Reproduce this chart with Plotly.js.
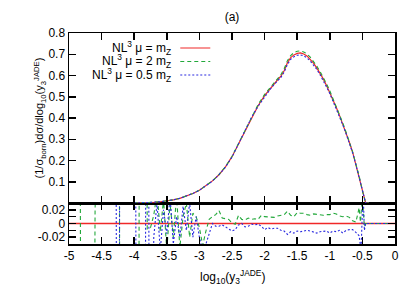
<!DOCTYPE html>
<html>
<head>
<meta charset="utf-8">
<script src="https://cdn.plot.ly/plotly-3.0.1.min.js"></script>
<style>html,body{margin:0;padding:0;background:#fff;}#chart{width:415px;height:291px;}</style>
</head>
<body>
<div id="chart"></div>
<script>
// ---- data: upper panel (distribution) ----
const topX = [-4.0,-3.9,-3.8,-3.7,-3.6,-3.5,-3.4,-3.3,-3.2,-3.1,-3.0,-2.9,-2.8,-2.7,-2.6,-2.5,-2.4,-2.3,-2.2,-2.1,-2.0,
  -1.95,-1.9,-1.85,-1.8,-1.75,-1.7,-1.65,-1.6,-1.55,-1.5,-1.45,-1.4,-1.35,-1.3,-1.25,-1.2,-1.15,-1.1,-1.05,-1.0,
  -0.95,-0.9,-0.85,-0.8,-0.75,-0.7,-0.65,-0.6,-0.55,-0.5,-0.45,-0.4];
const topRed = [0.0005,0.001,0.002,0.0035,0.006,0.010,0.015,0.022,0.032,0.045,0.060,0.080,0.104,0.133,0.170,0.218,0.278,0.343,0.404,0.458,0.505,
  0.525,0.545,0.563,0.580,0.597,0.622,0.660,0.684,0.697,0.704,0.706,0.701,0.692,0.677,0.658,0.636,0.611,0.584,0.553,0.521,
  0.486,0.449,0.411,0.372,0.330,0.286,0.239,0.182,0.125,0.055,0.0,0.0];
const topGreen = [0.0005,0.001,0.002,0.0035,0.006,0.010,0.015,0.022,0.032,0.045,0.060,0.080,0.104,0.134,0.171,0.219,0.280,0.346,0.408,0.463,0.511,
  0.530,0.551,0.569,0.587,0.604,0.632,0.670,0.694,0.708,0.714,0.716,0.711,0.702,0.686,0.667,0.645,0.619,0.592,0.561,0.528,
  0.491,0.454,0.415,0.376,0.333,0.289,0.241,0.183,0.127,0.057,0.0,0.0];
const topBlue = [0.0005,0.001,0.002,0.0035,0.006,0.010,0.015,0.022,0.032,0.045,0.060,0.080,0.103,0.133,0.169,0.216,0.277,0.342,0.403,0.455,0.501,
  0.521,0.541,0.559,0.575,0.591,0.616,0.652,0.676,0.688,0.695,0.697,0.692,0.683,0.668,0.650,0.629,0.604,0.577,0.546,0.515,
  0.480,0.443,0.406,0.367,0.326,0.283,0.236,0.181,0.123,0.054,0.0,0.0];

// ---- data: lower panel (relative deviation) ----
const ratioRedX = [-5, 0];
const ratioRedY = [0, 0];
const ratioGreenX = [-4.9,-4.85,-4.8,-4.75,-4.7,-4.65,-4.6,-4.55,-4.5,-4.45,-4.4,-4.35,-4.3,-4.25,-4.2,-4.15,-4.1,-4.05,-4.0,-3.95,-3.9,-3.85,
  -3.8,-3.75,-3.7,-3.65,-3.6,-3.55,-3.5,-3.45,-3.4,-3.35,-3.3,-3.25,-3.2,-3.15,-3.1,-3.05,-3.0,-2.95,-2.9,-2.85,-2.8,-2.75,-2.7,-2.65,-2.6,-2.55,
  -2.5,-2.45,-2.4,-2.35,-2.3,-2.25,-2.2,-2.15,-2.1,-2.05,-2.0,-1.95,-1.9,-1.85,-1.8,-1.75,-1.7,-1.65,-1.6,-1.55,-1.5,-1.45,-1.4,-1.35,-1.3,-1.25,
  -1.2,-1.15,-1.1,-1.05,-1.0,-0.95,-0.9,-0.85,-0.8,-0.75,-0.7,-0.65,-0.6,-0.55,-0.53,-0.5,-0.47,-0.45,0];
const ratioGreenY = [1,1,-1,-1,-1,-1,0.021,1,1,1,1,1,1,1,-1,-1,-1,-1,-1,-1,1,1,
  -0.008,-0.006,0.012,0.045,-0.012,0.035,-0.04,0.03,-0.02,0.04,-0.035,0.01,0.03,-0.02,0.015,0.01,-0.006,-0.032,-0.011,0.006,0.01,0.013,0.019,0.008,0.007,0.006,
  0.001,-0.001,0.012,0.006,0.005,0.008,0.006,0.007,0.006,0.012,0.01,0.01,0.01,0.009,0.011,0.012,0.013,0.018,0.012,0.01,0.016,0.015,0.015,0.013,0.012,0.014,
  0.013,0.012,0.012,0.013,0.013,0.015,0.014,0.011,0.01,0.011,0.009,0.004,0.002,0.023,0.002,0.04,-0.005,0,0];
const ratioBlueX = [-4.35,-4.3,-4.25,-4.2,-4.15,-4.1,-4.05,-4.0,-3.95,-3.9,-3.85,-3.8,-3.75,
  -3.7,-3.65,-3.6,-3.55,-3.5,-3.45,-3.4,-3.35,-3.3,-3.25,-3.2,-3.15,-3.1,-3.05,-3.0,-2.95,-2.9,-2.85,-2.8,-2.75,-2.7,-2.65,-2.6,-2.55,
  -2.5,-2.45,-2.4,-2.35,-2.3,-2.25,-2.2,-2.15,-2.1,-2.05,-2.0,-1.95,-1.9,-1.85,-1.8,-1.75,-1.7,-1.65,-1.6,-1.55,-1.5,-1.45,-1.4,-1.35,-1.3,-1.25,
  -1.2,-1.15,-1.1,-1.05,-1.0,-0.95,-0.9,-0.85,-0.8,-0.75,-0.7,-0.65,-0.6,-0.55,-0.52,-0.49,-0.47,-0.45,0];
const ratioBlueY = [1,1,-1,1,1,1,1,1,-1,-1,-1,1,-1,
  -0.02,0.03,-0.04,0.02,-0.015,0.04,-0.03,0.01,-0.02,0.025,-0.01,0.03,-0.02,0.01,-0.02,-0.04,-0.03,-0.016,0.0,-0.004,-0.004,-0.002,-0.005,-0.008,
  -0.011,-0.009,-0.002,0,-0.005,-0.004,-0.001,-0.002,-0.001,-0.004,-0.009,-0.006,-0.008,-0.007,-0.007,-0.01,-0.011,-0.016,-0.012,-0.014,-0.011,-0.012,-0.011,-0.01,-0.011,-0.013,
  -0.014,-0.012,-0.011,-0.011,-0.014,-0.011,-0.012,-0.01,-0.014,-0.01,-0.009,-0.009,-0.013,-0.018,-0.04,0.05,-0.01,0,0];

const xTicks = [-5,-4.5,-4,-3.5,-3,-2.5,-2,-1.5,-1,-0.5,0];
const xTickText = ['-5','-4.5','-4','-3.5','-3','-2.5','-2','-1.5','-1','-0.5','0'];
const yTopTicks = [0.1,0.2,0.3,0.4,0.5,0.6,0.7,0.8];
const yTopText = ['0.1','0.2','0.3','0.4','0.5','0.6','0.7','0.8'];
const yLowTicks = [-0.02,-0.01,0,0.01,0.02];
const yLowText = ['-0.02','','0','','0.02'];
const seriesNames = ['NL<sup>3</sup> μ = m<sub>Z</sub>','NL<sup>3</sup> μ = 2 m<sub>Z</sub>','NL<sup>3</sup> μ = 0.5 m<sub>Z</sub>'];
const xTitle = 'log<sub>10</sub>(y<sub>3</sub><sup>JADE</sup>)';
const yTitle = '(1/σ<sub>born</sub>)dσ/dlog<sub>10</sub>(y<sub>3</sub><sup>JADE</sup>)';

const RED = '#f02828', GREEN = '#22a83a', BLUE = '#2a2ae0';
const styles = [
  {color: RED, width: 1.2, dash: 'solid'},
  {color: GREEN, width: 1.1, dash: '4px,3px'},
  {color: BLUE, width: 1.1, dash: '2px,2px'}
];

const traces = [
  {x: topX, y: topRed, xaxis: 'x2', yaxis: 'y2', mode: 'lines', line: styles[0], name: ' ', legend: 'legend', showlegend: true},
  {x: topX, y: topGreen, xaxis: 'x2', yaxis: 'y2', mode: 'lines', line: styles[1], name: ' ', legend: 'legend2', showlegend: true},
  {x: topX, y: topBlue, xaxis: 'x2', yaxis: 'y2', mode: 'lines', line: styles[2], name: ' ', legend: 'legend3', showlegend: true},
  {x: ratioRedX, y: ratioRedY, xaxis: 'x', yaxis: 'y', mode: 'lines', line: {color: RED, width: 1.6}, showlegend: false},
  {x: ratioGreenX, y: ratioGreenY, xaxis: 'x', yaxis: 'y', mode: 'lines', line: styles[1], showlegend: false},
  {x: ratioBlueX, y: ratioBlueY, xaxis: 'x', yaxis: 'y', mode: 'lines', line: styles[2], showlegend: false}
];

const FONT = 'Liberation Sans, Arial, Helvetica, sans-serif';
const legendRows = [0.929, 0.865, 0.801];
function legendAt(y) {
  return {x: 0.326, y: y, xanchor: 'left', yanchor: 'middle', bgcolor: 'rgba(0,0,0,0)',
          borderwidth: 0, font: {size: 10, family: FONT}, itemwidth: 30};
}
const axisCommon = {showline: true, linecolor: '#000', linewidth: 1.5, mirror: 'ticks', ticks: 'inside',
  ticklen: 7, tickwidth: 1.5, tickcolor: '#000', showgrid: false, zeroline: false,
  tickfont: {size: 12, family: FONT, color: '#000'}};
const lowDom = 41/211;

const annotations = seriesNames.map((t, i) => ({text: t, xref: 'paper', yref: 'paper', x: 0.318, y: legendRows[i],
    xanchor: 'right', yanchor: 'middle', showarrow: false, font: {size: 12, family: FONT}}));
annotations.push({text: xTitle, xref: 'paper', yref: 'paper', x: 0.5, y: -33/211, xanchor: 'center', yanchor: 'middle',
  showarrow: false, font: {size: 12, family: FONT}});

const layout = {
  width: 415, height: 291,
  margin: {l: 69, r: 20, t: 33, b: 47},
  paper_bgcolor: '#fff', plot_bgcolor: '#fff',
  font: {family: FONT, color: '#000', size: 12},
  title: {text: '(a)', x: 0.5, xref: 'paper', y: 1 - 17/291, yref: 'container', yanchor: 'middle', font: {size: 12, family: FONT}},
  xaxis: Object.assign({}, axisCommon, {domain: [0, 1], anchor: 'y', range: [-5, 0], tickvals: xTicks, ticktext: xTickText}),
  yaxis: Object.assign({}, axisCommon, {domain: [0, lowDom], anchor: 'x', range: [-0.03, 0.03], tickvals: yLowTicks, ticktext: yLowText}),
  xaxis2: Object.assign({}, axisCommon, {domain: [0, 1], anchor: 'y2', matches: 'x', range: [-5, 0], tickvals: xTicks, showticklabels: false}),
  yaxis2: Object.assign({}, axisCommon, {domain: [lowDom, 1], anchor: 'x2', range: [0, 0.8], tickvals: yTopTicks, ticktext: yTopText,
    title: {text: yTitle, standoff: 2, font: {size: 11, family: FONT}}}),
  legend: legendAt(legendRows[0]),
  legend2: legendAt(legendRows[1]),
  legend3: legendAt(legendRows[2]),
  annotations: annotations
};

Plotly.newPlot('chart', traces, layout, {displayModeBar: false, staticPlot: true});
</script>
</body>
</html>
